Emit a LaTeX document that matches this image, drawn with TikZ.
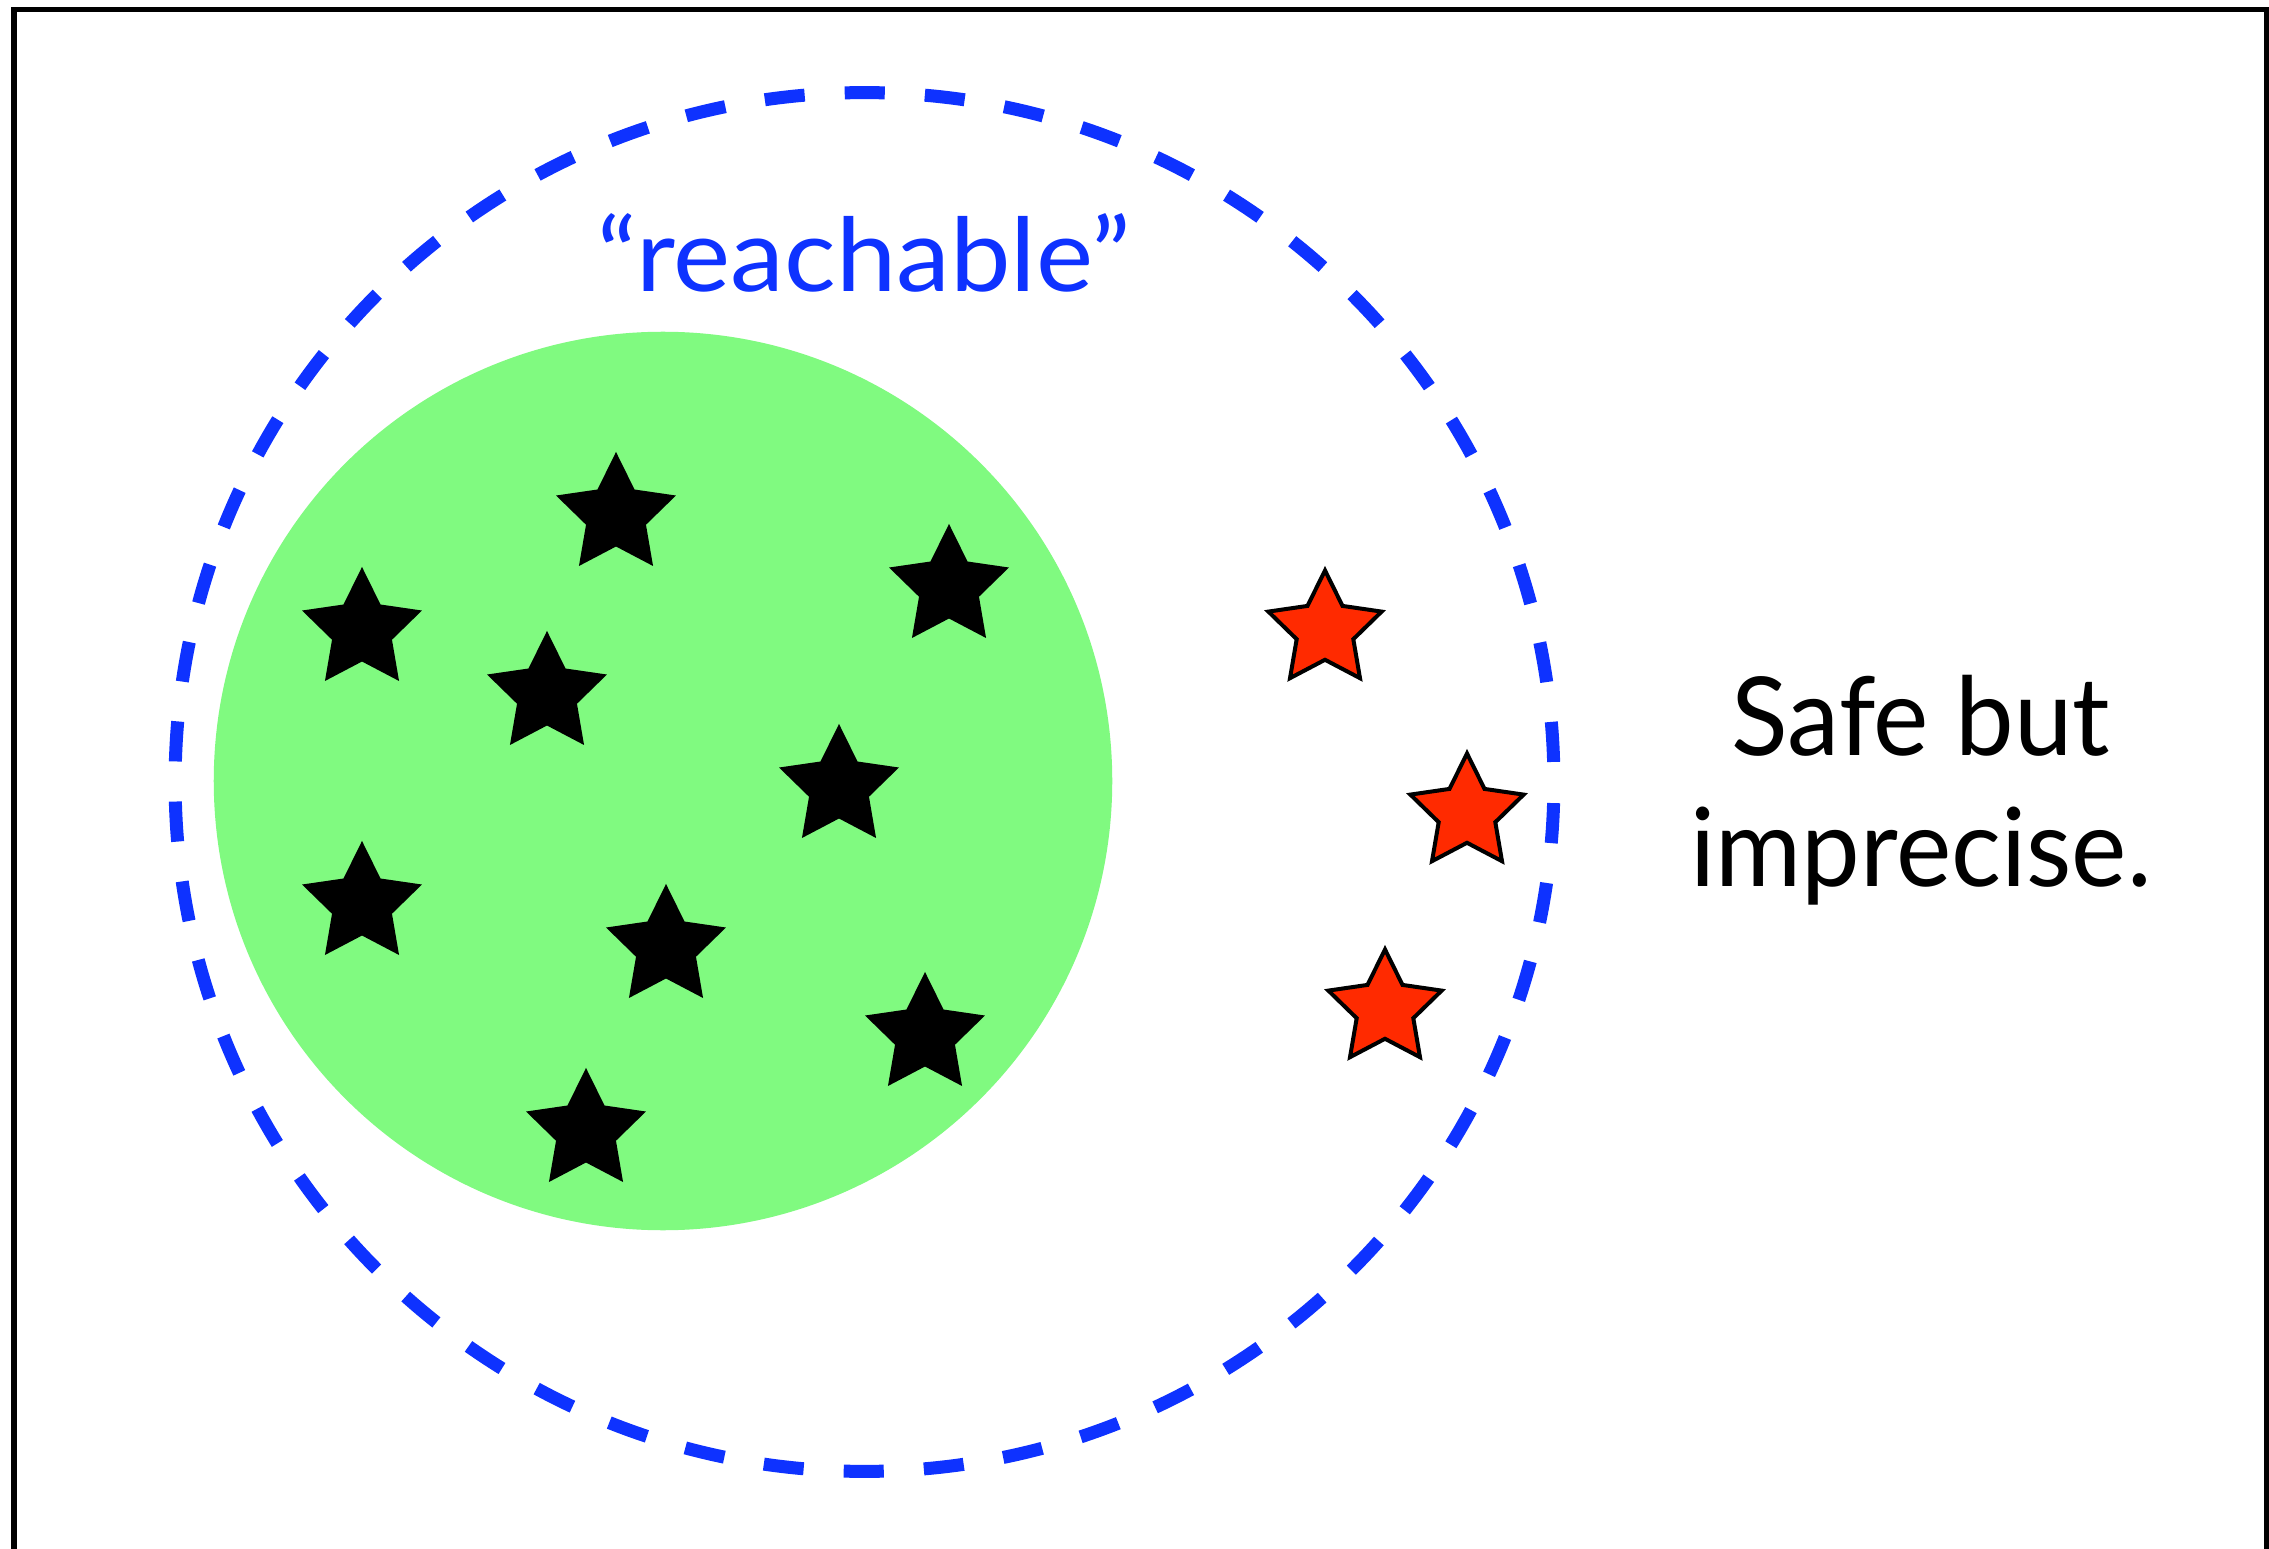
\documentclass[tikz,border=0pt]{standalone}
\usepackage{fontspec}
\setmainfont{Lato}
\newfontfamily\reachfont[FakeStretch=1.06]{Lato}
\newfontfamily\safefont[FakeStretch=0.96]{Lato}
\usetikzlibrary{shapes.geometric}
\definecolor{reachblue}{RGB}{14,50,255}
\definecolor{safegreen}{RGB}{128,250,128}
\definecolor{badred}{RGB}{255,42,0}
\begin{document}
\begin{tikzpicture}[x=0.01cm,y=-0.01cm,
  goodstar/.style={star,star points=5,star point ratio=2,minimum size=1.26cm,inner sep=0pt,fill=black},
  badstar/.style={star,star points=5,star point ratio=2,minimum size=1.19cm,inner sep=0pt,fill=badred,draw=black,line width=0.04cm},
  label/.style={inner sep=0pt,anchor=base}]
\clip (0,0) rectangle (2269,1549);
\fill[white] (0,0) rectangle (2269,1549);
\draw[line width=0.05cm] (14,10) rectangle (2266,1700);
\node[circle,minimum size=8.98cm,inner sep=0pt,fill=safegreen] (safe) at (663,781) {};
\node[circle,minimum size=13.78cm,inner sep=0pt,draw=reachblue,line width=0.13cm,
  dash pattern=on 0.4008cm off 0.4008cm,dash phase=0.601cm] (reach) at (864.5,782) {};
\node[label,text=reachblue,font=\reachfont\fontsize{29}{35}\selectfont] (reachtext) at (864,292) {“reachable”};
\node[label,font=\safefont\fontsize{31}{37}\selectfont] (safetext1) at (1921,755) {Safe but};
\node[label,font=\safefont\fontsize{31}{37}\selectfont] (safetext2) at (1921,886) {imprecise.};
% black stars
\node[goodstar] (s1) at (616,515) {};
\node[goodstar] (s2) at (362,630) {};
\node[goodstar] (s3) at (547,694) {};
\node[goodstar] (s4) at (949,587) {};
\node[goodstar] (s5) at (839,787) {};
\node[goodstar] (s6) at (362,904) {};
\node[goodstar] (s7) at (666,947) {};
\node[goodstar] (s8) at (925,1035) {};
\node[goodstar] (s9) at (586,1131) {};
% red stars
\node[badstar] (r1) at (1325,630) {};
\node[badstar] (r2) at (1467,813) {};
\node[badstar] (r3) at (1385,1009) {};
\end{tikzpicture}
\end{document}
